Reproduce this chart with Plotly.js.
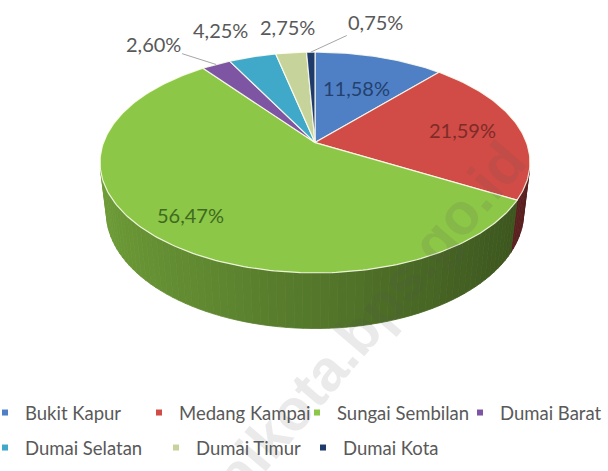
<!DOCTYPE html>
<html><head><meta charset="utf-8">
<script src="https://cdn.plot.ly/plotly-3.0.1.min.js"></script>
<style>html,body{margin:0;padding:0;background:#fff;}</style>
</head><body>
<div id="chart" style="width:608px;height:471px;"></div>
<script>
// ---- data ----
const categories = ['Bukit Kapur', 'Medang Kampai', 'Sungai Sembilan', 'Dumai Barat', 'Dumai Selatan', 'Dumai Timur', 'Dumai Kota'];
const shares = [11.58, 21.59, 56.47, 2.60, 4.25, 2.75, 0.75];
const colors = ['#4f80c6', '#d14c47', '#8cc747', '#7d55a3', '#40a8c9', '#c6d49b', '#1f3b6b'];
const labelColors = ['#24416e', '#7e2b28', '#3f6a20', '#595959', '#595959', '#595959', '#595959'];
const watermark = 'dumaikota.bps.go.id';

// ---- 3D projection of a tilted disc (style constants) ----
const W = 608, H = 471;
const CX = 315, CY = 142.6, F = 1013, D = 4.79, SINP = 0.505, COSP = 0.863, T = 0.28;
function proj(r, thDeg, z) {
  const th = thDeg * Math.PI / 180;
  const x = r * Math.sin(th), y = r * Math.cos(th);
  const depth = D + y * COSP - z * SINP;
  return [CX + F * x / depth, CY - F * (y * SINP + z * COSP) / depth];
}
function shade(hex, f) {
  const n = parseInt(hex.slice(1), 16);
  const r = Math.round(((n >> 16) & 255) * f), g = Math.round(((n >> 8) & 255) * f), b = Math.round((n & 255) * f);
  return 'rgb(' + r + ',' + g + ',' + b + ')';
}
const fmt = v => v.toFixed(2).replace('.', ',') + '%';

const total = shares.reduce((a, b) => a + b, 0);
const starts = [], ends = [];
let acc = 0;
shares.forEach(v => { starts.push(acc / total * 360); acc += v; ends.push(acc / total * 360); });

const visMin = Math.acos(-1 / (D * COSP)) * 180 / Math.PI;
const visMax = 360 - visMin;

const traces = [];
// side walls
categories.forEach((c, i) => {
  const a0 = Math.max(starts[i], visMin), a1 = Math.min(ends[i], visMax);
  if (a1 <= a0) return;
  const n = Math.max(1, Math.ceil((a1 - a0) / 2));
  for (let k = 0; k < n; k++) {
    const ta = a0 + (a1 - a0) * k / n, tb = a0 + (a1 - a0) * (k + 1) / n;
    const p = [proj(1, ta, 0), proj(1, tb, 0), proj(1, tb, -T), proj(1, ta, -T), proj(1, ta, 0)];
    const col = shade(colors[i], 0.6 - 0.19 * Math.sin((ta + tb) / 2 * Math.PI / 180));
    traces.push({
      type: 'scatter', mode: 'lines', x: p.map(q => q[0]), y: p.map(q => q[1]),
      fill: 'toself', fillcolor: col, line: {color: col, width: 0.8},
      hoverinfo: 'skip', showlegend: false
    });
  }
});
// top faces
categories.forEach((c, i) => {
  const pts = [proj(0, 0, 0)];
  const n = Math.max(2, Math.ceil(ends[i] - starts[i]));
  for (let k = 0; k <= n; k++) pts.push(proj(1, starts[i] + (ends[i] - starts[i]) * k / n, 0));
  pts.push(proj(0, 0, 0));
  traces.push({
    type: 'scatter', mode: 'lines', x: pts.map(q => q[0]), y: pts.map(q => q[1]),
    fill: 'toself', fillcolor: colors[i], line: {color: 'rgba(255,255,240,0.85)', width: 1.2},
    hoverinfo: 'skip', showlegend: false, name: c
  });
});
// legend entries
categories.forEach((c, i) => {
  traces.push({
    type: 'scatter', mode: 'markers', x: [null], y: [null], name: c,
    marker: {symbol: 'square', size: 6, color: colors[i]},
    legend: i === 0 ? 'legend' : 'legend' + (i + 1), hoverinfo: 'skip'
  });
});

// labels
const inside = {0: 0.6, 1: 0.72, 2: 0.8};
const outside = {3: [-63, -20, true], 4: [-32, -27, false], 5: [-4, -26, false], 6: [65, -30, true]};
const annotations = [{
  text: watermark, xref: 'x', yref: 'y', x: 330, y: 364, showarrow: false, textangle: -49.5,
  font: {family: 'Liberation Sans', size: 58, weight: 'bold', color: 'rgba(80,80,80,0.12)'}
}];
categories.forEach((c, i) => {
  const mid = (starts[i] + ends[i]) / 2;
  if (inside[i] !== undefined) {
    const p = proj(inside[i], mid, 0);
    annotations.push({text: fmt(shares[i]), x: p[0], y: p[1], xref: 'x', yref: 'y', showarrow: false,
      font: {family: 'Lato', size: 20, color: labelColors[i]}});
  } else {
    const p = proj(1, mid, 0), o = outside[i];
    annotations.push({text: fmt(shares[i]), x: p[0], y: p[1], xref: 'x', yref: 'y', showarrow: true,
      ax: o[0], ay: o[1], arrowhead: 0, arrowwidth: 1, standoff: 0,
      arrowcolor: o[2] ? '#a6a6a6' : 'rgba(0,0,0,0)',
      font: {family: 'Lato', size: 20, color: labelColors[i]}});
  }
});

// legends (one per entry, placed like the reference): marker x positions
const legX = [5, 159, 317, 480, 5, 176, 323];
const legY = [413, 413, 413, 413, 448, 448, 448];
const layout = {
  width: W, height: H,
  margin: {l: 0, r: 0, t: 0, b: 0, pad: 0, autoexpand: false},
  paper_bgcolor: '#ffffff', plot_bgcolor: '#ffffff',
  font: {family: 'Lato', color: '#595959'},
  xaxis: {range: [0, W], visible: false, fixedrange: true},
  yaxis: {range: [H, 0], visible: false, fixedrange: true},
  annotations: annotations,
  showlegend: true
};
categories.forEach((c, i) => {
  const key = i === 0 ? 'legend' : 'legend' + (i + 1);
  layout[key] = {
    x: (legX[i] - 20) / W, xanchor: 'left', y: 1 - legY[i] / H, yanchor: 'middle',
    bgcolor: 'rgba(0,0,0,0)', borderwidth: 0,
    font: {family: 'Lato', size: 18.5, color: '#595959'}
  };
});

Plotly.newPlot('chart', traces, layout, {displayModeBar: false, staticPlot: true});
</script>
</body></html>
